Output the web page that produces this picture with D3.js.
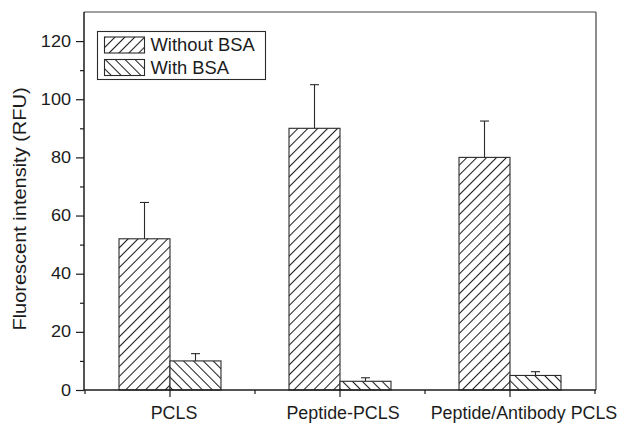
<!DOCTYPE html>
<html>
<head>
<meta charset="utf-8">
<script src="https://cdn.jsdelivr.net/npm/d3@7"></script>
<style>
  html, body { margin: 0; padding: 0; background: #fff; }
  svg { display: block; font-family: "Liberation Sans", Arial, Helvetica, sans-serif; }
</style>
</head>
<body>
<svg id="chart" width="628" height="423"></svg>
<script>
// Fluorescent intensity per coating, with and without BSA blocking
const categories = ["PCLS", "Peptide-PCLS", "Peptide/Antibody PCLS"];
const seriesNames = ["Without BSA", "With BSA"];
const withoutBSA = [52, 90, 80];
const withoutBSAErr = [12.5, 15, 12.5];
const withBSA = [10, 3, 5];
const withBSAErr = [2.5, 1.2, 1.3];
const yMajorTicks = [0, 20, 40, 60, 80, 100, 120];
const yMinorTicks = [10, 30, 50, 70, 90, 110];
const yTitle = "Fluorescent intensity (RFU)";

const svg = d3.select("#chart");
const margin = { left: 84, right: 32, top: 12, bottom: 33 };
const W = 628, H = 423;
const innerL = margin.left, innerR = W - margin.right;
const innerT = margin.top, innerB = H - margin.bottom;

const x = d3.scaleBand().domain(categories).range([innerL + 1, innerR - 1]).padding(0);
const xs = d3.scaleBand().domain(seriesNames).range([0, x.bandwidth()])
  .paddingInner(0).paddingOuter(0.667);
const y = d3.scaleLinear().domain([0, 130]).range([innerB, innerT]);

const ink = "#1c1c1c";
const lineCol = "#2a2a2a";

// widen glyphs a little along the text direction
function stretch(sel, k) {
  sel.each(function () {
    const len = this.getComputedTextLength();
    d3.select(this).attr("textLength", len * k).attr("lengthAdjust", "spacingAndGlyphs");
  });
}

// hatch patterns
const defs = svg.append("defs");
function hatch(id, angle) {
  const p = defs.append("pattern")
    .attr("id", id)
    .attr("patternUnits", "userSpaceOnUse")
    .attr("width", 7).attr("height", 7)
    .attr("patternTransform", `rotate(${angle})`);
  p.append("rect").attr("width", 7).attr("height", 7).attr("fill", "#fff");
  p.append("line").attr("x1", 0.5).attr("y1", 0).attr("x2", 0.5).attr("y2", 7)
    .attr("stroke", "#1e1e1e").attr("stroke-width", 1.05);
}
hatch("hatchFwd", 45);
hatch("hatchBack", -45);
const fills = { "Without BSA": "url(#hatchFwd)", "With BSA": "url(#hatchBack)" };

// frame: top and right edges
svg.append("line").attr("x1", innerL).attr("x2", innerR).attr("y1", innerT).attr("y2", innerT)
  .attr("stroke", "#444").attr("stroke-width", 1.2);
svg.append("line").attr("x1", innerR).attr("x2", innerR).attr("y1", innerT).attr("y2", innerB)
  .attr("stroke", "#444").attr("stroke-width", 1.2);

// bars
const rows = categories.map((c, i) => [
  { cat: c, s: "Without BSA", v: withoutBSA[i], e: withoutBSAErr[i] },
  { cat: c, s: "With BSA", v: withBSA[i], e: withBSAErr[i] }
]).flat();

const g = svg.append("g");
g.selectAll("rect.bar").data(rows).join("rect")
  .attr("class", "bar")
  .attr("x", d => x(d.cat) + xs(d.s))
  .attr("y", d => y(d.v))
  .attr("width", xs.bandwidth())
  .attr("height", d => y(0) - y(d.v))
  .attr("fill", d => fills[d.s])
  .attr("stroke", lineCol).attr("stroke-width", 1.1);

// error bars (upper half only)
const cx = d => x(d.cat) + xs(d.s) + xs.bandwidth() / 2;
g.selectAll("line.err").data(rows).join("line")
  .attr("class", "err")
  .attr("x1", cx).attr("x2", cx)
  .attr("y1", d => y(d.v)).attr("y2", d => y(d.v + d.e))
  .attr("stroke", lineCol).attr("stroke-width", 1.1);
g.selectAll("line.cap").data(rows).join("line")
  .attr("class", "cap")
  .attr("x1", d => cx(d) - 4.5).attr("x2", d => cx(d) + 4.5)
  .attr("y1", d => y(d.v + d.e)).attr("y2", d => y(d.v + d.e))
  .attr("stroke", lineCol).attr("stroke-width", 1.1);

// y axis
const yAxis = svg.append("g").attr("transform", `translate(${innerL},0)`)
  .call(d3.axisLeft(y).tickValues(yMajorTicks).tickSize(8).tickPadding(5).tickFormat(d3.format("d")));
yAxis.select(".domain").attr("stroke", ink).attr("stroke-width", 1.5)
  .attr("d", `M0,${innerB}V${innerT}`);
yAxis.selectAll(".tick line").attr("stroke", ink).attr("stroke-width", 1.2);
yAxis.selectAll(".tick text").attr("fill", ink).attr("font-size", 16)
  .attr("font-family", "Liberation Sans, Arial, sans-serif").call(stretch, 1.13);
const yMinor = svg.append("g").attr("transform", `translate(${innerL},0)`)
  .call(d3.axisLeft(y).tickValues(yMinorTicks).tickSize(4).tickFormat(""));
yMinor.select(".domain").remove();
yMinor.selectAll(".tick line").attr("stroke", ink).attr("stroke-width", 1.2);

// x axis
const xAxis = svg.append("g").attr("transform", `translate(0,${innerB})`)
  .call(d3.axisBottom(x).tickSize(7).tickPadding(10));
xAxis.select(".domain").attr("stroke", ink).attr("stroke-width", 1.5)
  .attr("d", `M${innerL},0H${innerR}`);
xAxis.selectAll(".tick line").attr("stroke", ink).attr("stroke-width", 1.2);
const labelNudge = [4, 3, 14];
xAxis.selectAll(".tick text").attr("fill", ink).attr("font-size", 17.5)
  .attr("font-family", "Liberation Sans, Arial, sans-serif")
  .attr("dx", (d, i) => labelNudge[i])
  .call(stretch, 1.02);
const bounds = categories.map(c => x(c)).concat([x(categories[categories.length - 1]) + x.bandwidth()]);
svg.append("g").selectAll("line").data(bounds).join("line")
  .attr("x1", d => d).attr("x2", d => d)
  .attr("y1", innerB).attr("y2", innerB + 4)
  .attr("stroke", ink).attr("stroke-width", 1.2);

// y title
svg.append("text")
  .attr("transform", `translate(25.5,209) rotate(-90)`)
  .attr("text-anchor", "middle")
  .attr("font-size", 18).attr("fill", ink)
  .text(yTitle)
  .call(stretch, 1.11);

// legend
const leg = svg.append("g").attr("transform", "translate(97.5,31.5)");
leg.append("rect").attr("width", 168).attr("height", 48)
  .attr("fill", "#fff").attr("stroke", lineCol).attr("stroke-width", 1.1);
seriesNames.forEach((s, i) => {
  const row = leg.append("g").attr("transform", `translate(7,${5.5 + i * 22.5})`);
  row.append("rect").attr("width", 40).attr("height", 16)
    .attr("fill", fills[s]).attr("stroke", lineCol).attr("stroke-width", 1.1);
  row.append("text").attr("x", 46).attr("y", 14)
    .attr("font-size", 17.5).attr("fill", ink).text(s)
    .call(stretch, 1.05);
});
</script>
</body>
</html>
